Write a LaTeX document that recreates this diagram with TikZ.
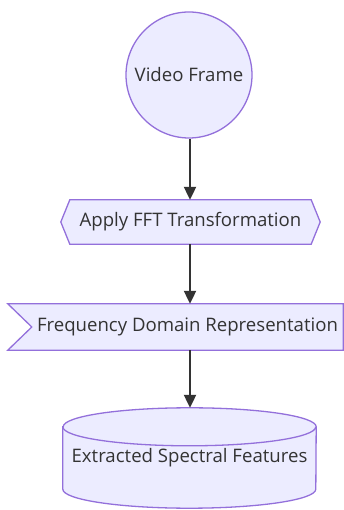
\documentclass[tikz,border=0pt]{standalone}
\usepackage{fontspec}
\setmainfont{Open Sans}
\usetikzlibrary{arrows.meta,calc,backgrounds}
\definecolor{nodefill}{HTML}{ECECFF}
\definecolor{nodeline}{HTML}{9370DB}
\definecolor{txt}{HTML}{333333}
\definecolor{arrowc}{HTML}{333333}
\tikzset{
  lbl/.style={text=txt, font=\fontsize{18.6}{20}\selectfont, inner sep=0pt},
  shapeline/.style={draw=nodeline, fill=nodefill, line width=1.3pt},
  flow/.style={draw=arrowc, line width=2.2pt, -{Triangle[length=13pt,width=12pt]}}
}
\begin{document}
\begin{tikzpicture}[x=1pt,y=1pt]
\useasboundingbox (0,0) rectangle (344,510);
% Video Frame circle
\node[lbl, circle, shapeline, minimum size=126pt] (vf) at (189,435) {Video Frame};
% Hexagon
\node[lbl, minimum width=259pt, minimum height=44pt] (fft) at (190.5,288) {Apply FFT Transformation};
% Flag
\node[lbl, minimum width=311pt, minimum height=46pt] (fdr) at (187.5,183) {Frequency Domain Representation};
% Cylinder
\node[lbl, minimum width=253pt, minimum height=100pt] (cyl) at (189.5,52) {Extracted Spectral Features};
\begin{scope}[on background layer]
  \path[shapeline] (fft.west) -- ($(fft.north west)+(9,0)$) -- ($(fft.north east)+(-9,0)$) -- (fft.east)
     -- ($(fft.south east)+(-9,0)$) -- ($(fft.south west)+(9,0)$) -- cycle;
  \path[shapeline] ($(fdr.north west)+(-24,0)$) -- (fdr.north east) -- (fdr.south east)
     -- ($(fdr.south west)+(-24,0)$) -- (fdr.west) -- cycle;
  \path[shapeline] ($(cyl.north west)+(0,-19)$) -- ($(cyl.south west)+(0,19)$)
     arc[start angle=180,end angle=360,x radius=126.5pt,y radius=19pt]
     -- ($(cyl.north east)+(0,-19)$)
     arc[start angle=0,end angle=180,x radius=126.5pt,y radius=19pt] -- cycle;
  \draw[draw=nodeline, line width=1.3pt] ($(cyl.north west)+(0,-19)$)
     arc[start angle=180,end angle=360,x radius=126.5pt,y radius=19pt];
\end{scope}
\coordinate (a1) at (190,372);
\draw[flow] (vf.south -| a1) -- (fft.north -| a1);
\draw[flow] (fft.south -| a1) -- (fdr.north -| a1);
\draw[flow] (fdr.south -| a1) -- (cyl.north -| a1);
\end{tikzpicture}
\end{document}
